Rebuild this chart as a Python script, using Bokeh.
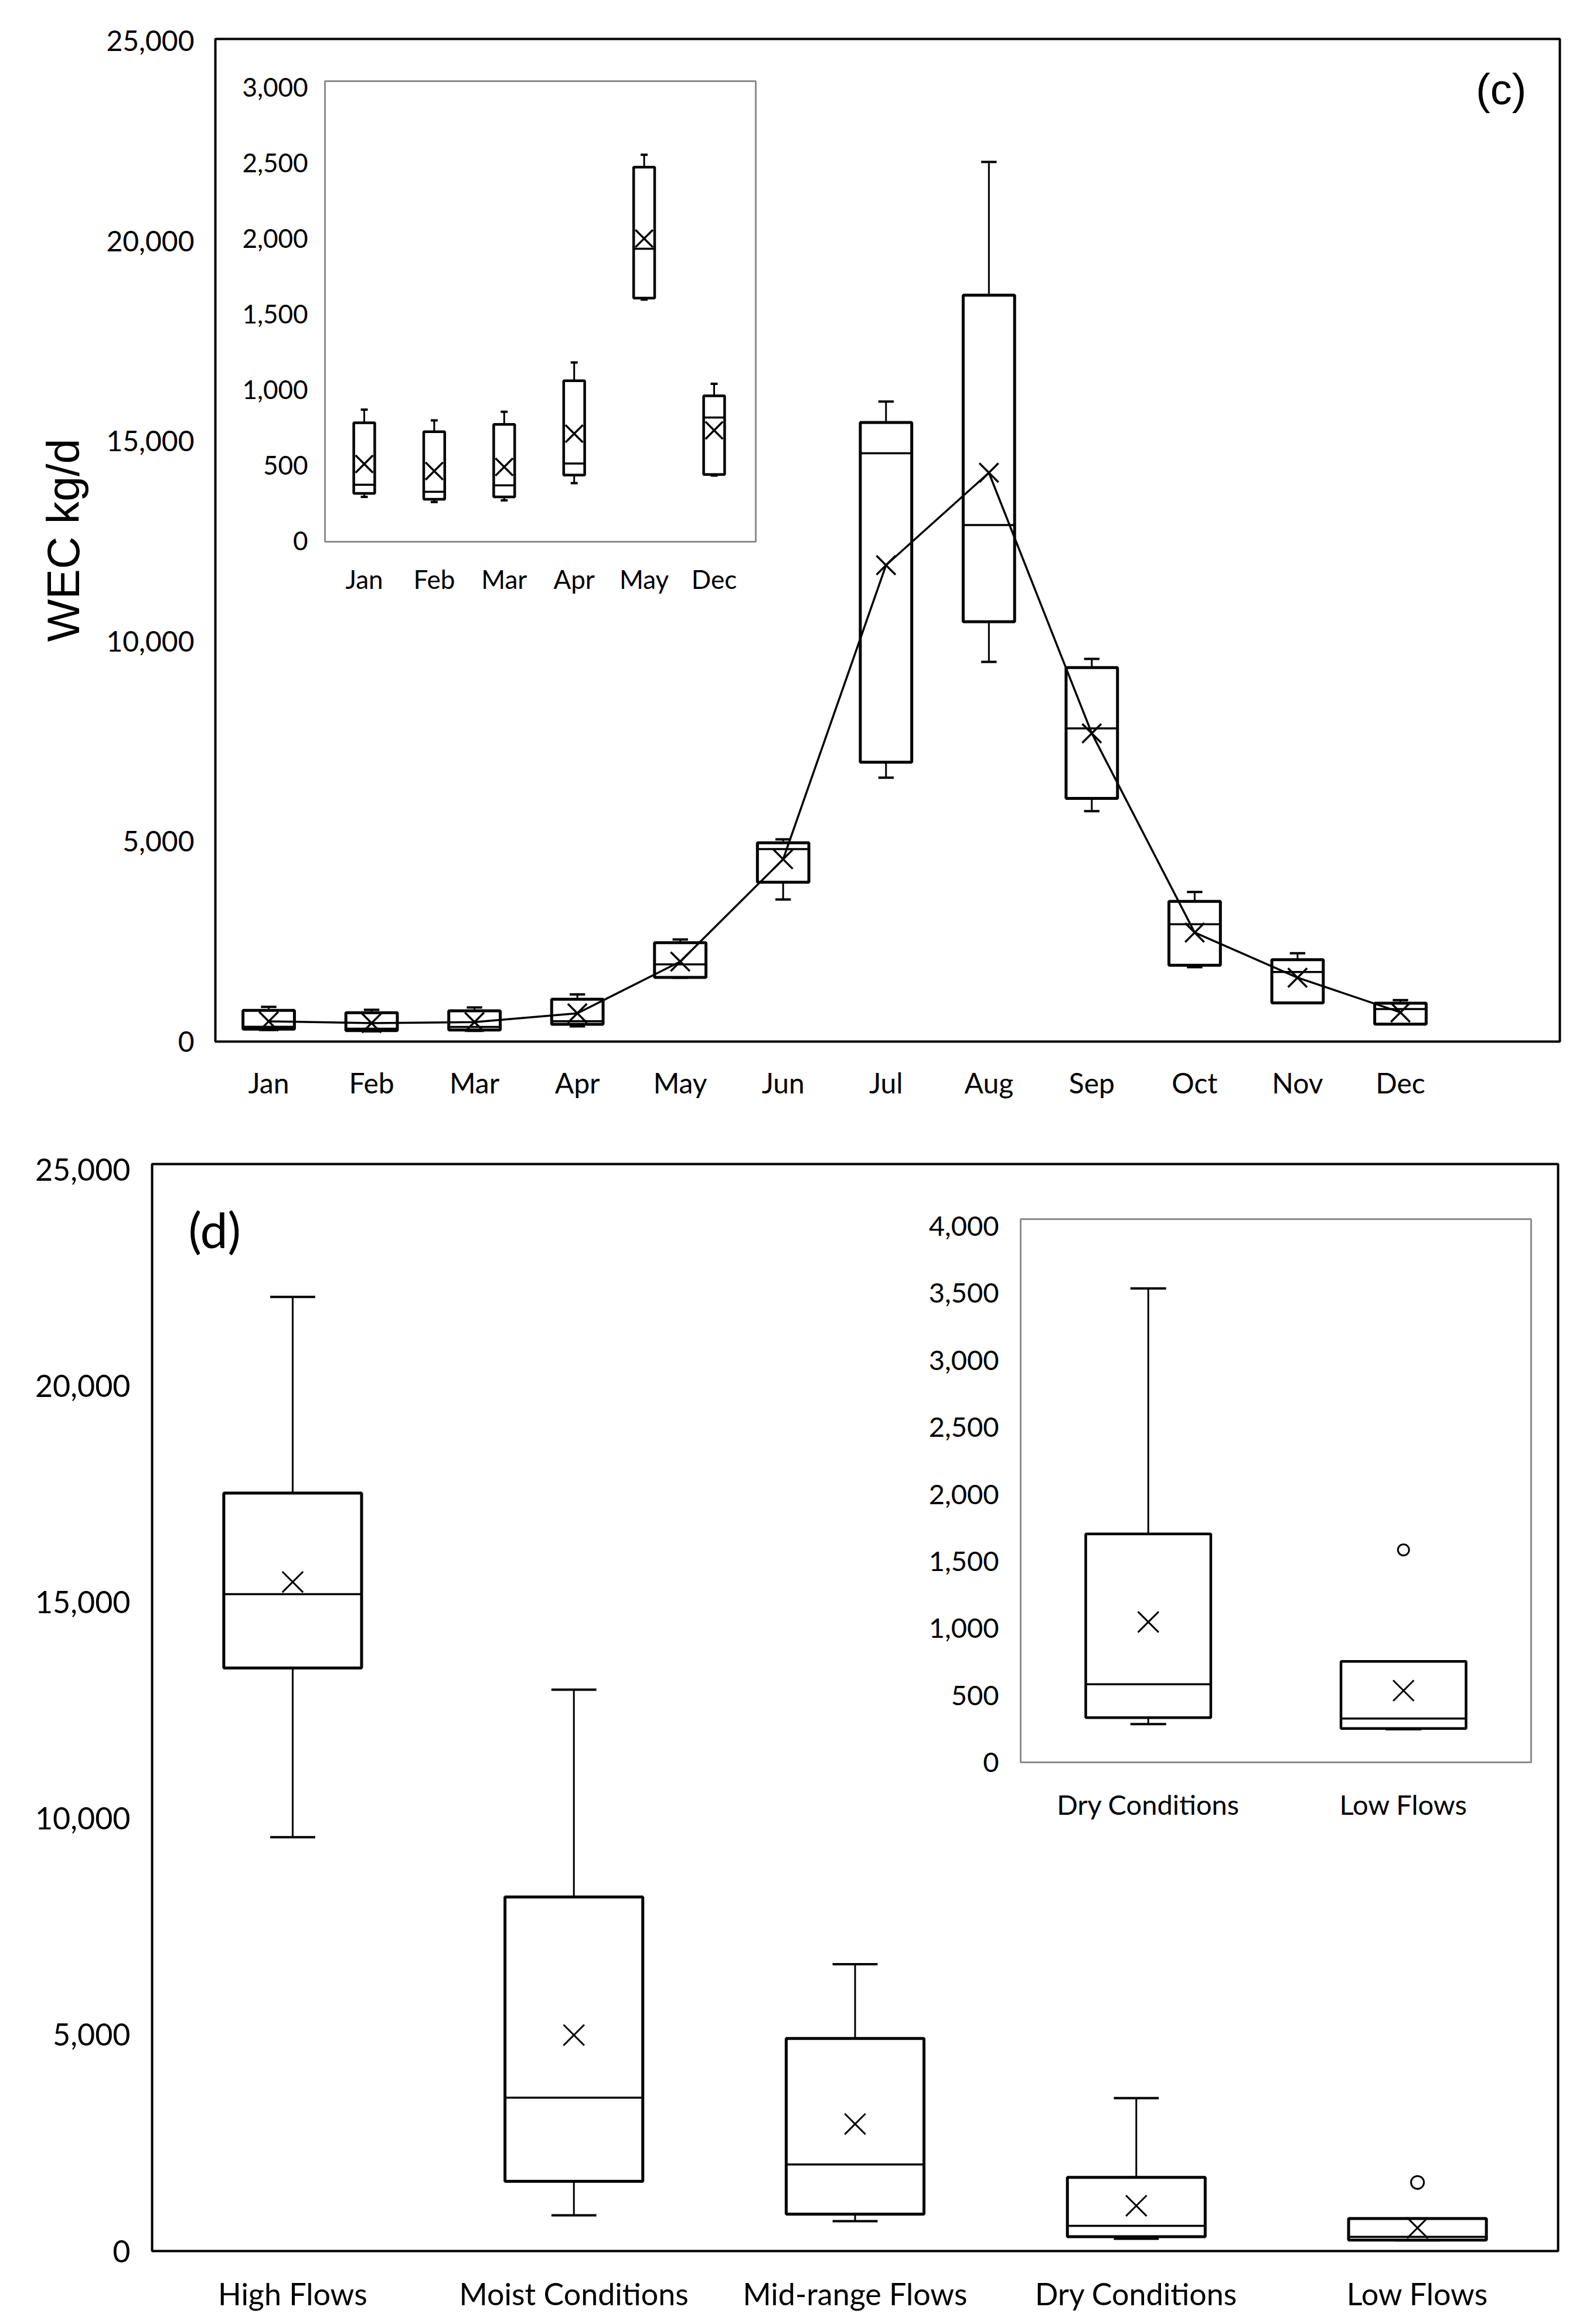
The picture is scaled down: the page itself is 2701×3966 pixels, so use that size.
import numpy as np
from bokeh.plotting import figure
from bokeh.models import Range1d, FixedTicker, NumeralTickFormatter, Label
from bokeh.embed import file_html
from bokeh.resources import INLINE
from bokeh.core.properties import value

# ---------------- data: panel (c) monthly WEC kg/d ----------------
months = ["Jan", "Feb", "Mar", "Apr", "May", "Jun", "Jul", "Aug", "Sep", "Oct", "Nov", "Dec"]
c_min = [289, 255, 266, 380, 1594, 3549, 6592, 9484, 5756, 1859, 967, 430]
c_q1 = [312, 273, 289, 433, 1604, 3981, 6977, 10489, 6075, 1906, 967, 437]
c_med = [369, 323, 365, 510, 1930, 4808, 14697, 12903, 7822, 2930, 1737, 814]
c_q3 = [779, 720, 768, 1057, 2470, 4967, 15464, 18643, 9343, 3502, 2047, 957]
c_max = [866, 795, 852, 1178, 2552, 5052, 15987, 21972, 9559, 3737, 2207, 1037]
c_mean = [506, 460, 487, 707, 1998, 4554, 11900, 14209, 7700, 2723, 1596, 729]
c_yticks = [0, 5000, 10000, 15000, 20000, 25000]
c_inset_months = ["Jan", "Feb", "Mar", "Apr", "May", "Dec"]
c_inset_yticks = [0, 500, 1000, 1500, 2000, 2500, 3000]

# ---------------- data: panel (d) flow classes ----------------
flows = ["High Flows", "Moist Conditions", "Mid-range Flows", "Dry Conditions", "Low Flows"]
d_min = [9564, 825, 690, 285, 247]
d_q1 = [13474, 1610, 852, 333, 253]
d_med = [15180, 3544, 2002, 583, 327]
d_q3 = [17519, 8184, 4911, 1704, 753]
d_max = [22051, 12973, 6629, 3536, 753]
d_mean = [15463, 4992, 2936, 1047, 535]
d_out_class = ["Low Flows"]
d_out_val = [1585]
d_yticks = [0, 5000, 10000, 15000, 20000, 25000]
d_inset_flows = ["Dry Conditions", "Low Flows"]
d_inset_yticks = [0, 500, 1000, 1500, 2000, 2500, 3000, 3500, 4000]

# ---------------- layout constants (page pixels) ----------------
FIG_W = 2690
C_H = 1900
D_H = 2060
TICK_FONT = "Lato"


def lin(p, p0, p1, v0, v1):
    return v0 + (p - p0) * (v1 - v0) / (p1 - p0)


# panel (c) frame
CF_L, CF_R, CF_T, CF_B = 367, 2661, 66, 1777
cx = lambda px: lin(px, 458, 2389, 0, 11)
cy = lambda py: lin(py, 1777, 69, 0, 25000)
# inset (c) geometry
CI_L, CI_R, CI_T, CI_B = 554, 1289, 138, 924
cix = lambda px: lin(px, 621, 1218, 0, 5)
ciy = lambda py: lin(py, 922, 148, 0, 3000)

# panel (d) frame
D_TOP = C_H
DF_L, DF_R, DF_T, DF_B = 259, 2658, 1986, 3841
dx = lambda px: lin(px, 259, 2658, -0.5, 4.5)
dy = lambda py: lin(py, 3841, 1995, 0, 25000)
DI_L, DI_R, DI_T, DI_B = 1741, 2612, 2080, 3007
dix = lambda px: lin(px, 1741, 2612, -0.5, 1.5)
diy = lambda py: lin(py, 3007, 2092, 0, 4000)


def style_axes(p, font_size, xstand, ystand):
    for ax in (p.xaxis[0], p.yaxis[0]):
        ax.axis_line_color = None
        ax.major_tick_line_color = None
        ax.minor_tick_line_color = None
        ax.major_label_text_font = TICK_FONT
        ax.major_label_text_font_size = font_size
        ax.major_label_text_color = "black"
    p.xaxis[0].major_label_standoff = xstand
    p.yaxis[0].major_label_standoff = ystand
    p.xgrid.visible = False
    p.ygrid.visible = False


def draw_boxes(p, xs, mn, q1, md, q3, mx, bw, cw, lw, rx=None, ry=None):
    kw = {}
    if rx:
        kw = dict(x_range_name=rx, y_range_name=ry)
    xs = np.asarray(xs, dtype=float)
    p.segment(x0=xs, x1=xs, y0=q3, y1=mx, line_color="black", line_width=3, **kw)
    p.segment(x0=xs, x1=xs, y0=mn, y1=q1, line_color="black", line_width=3, **kw)
    p.segment(x0=xs - cw, x1=xs + cw, y0=mx, y1=mx, line_color="black", line_width=4, **kw)
    p.segment(x0=xs - cw, x1=xs + cw, y0=mn, y1=mn, line_color="black", line_width=4, **kw)
    p.vbar(x=xs, width=bw, bottom=q1, top=q3, fill_color="white", line_color="black",
           line_width=lw, **kw)
    p.segment(x0=xs - bw / 2, x1=xs + bw / 2, y0=md, y1=md, line_color="black",
              line_width=3.5, **kw)
    return xs


# ======================= panel (c) =======================
pc = figure(width=FIG_W, height=C_H, title=None, output_backend="svg", toolbar_location=None,
            x_range=Range1d(cx(CF_L), cx(CF_R)), y_range=Range1d(cy(CF_B), cy(CF_T)),
            min_border_left=CF_L, min_border_right=FIG_W - CF_R,
            min_border_top=CF_T, min_border_bottom=C_H - CF_B)
pc.background_fill_color = "white"
pc.border_fill_color = "white"
pc.outline_line_color = "black"
pc.outline_line_width = 4
pc.extra_x_ranges = {"ix": Range1d(cix(CF_L), cix(CF_R))}
pc.extra_y_ranges = {"iy": Range1d(ciy(CF_B), ciy(CF_T))}

style_axes(pc, "48px", 35, 30)
pc.xaxis[0].ticker = FixedTicker(ticks=list(range(len(months))))
pc.xaxis[0].major_label_overrides = {i: m for i, m in enumerate(months)}
pc.yaxis[0].ticker = FixedTicker(ticks=c_yticks)
pc.yaxis[0].formatter = NumeralTickFormatter(format="0,0")
pc.yaxis[0].axis_label = "WEC kg/d"
pc.yaxis[0].axis_label_text_font = "Liberation Sans"
pc.yaxis[0].axis_label_text_font_size = "77px"
pc.yaxis[0].axis_label_text_font_style = "normal"
pc.yaxis[0].axis_label_text_color = "black"
pc.yaxis[0].axis_label_standoff = 27

# inset frame
pc.quad(left=[cix(CI_L)], right=[cix(CI_R)], bottom=[ciy(CI_B)], top=[ciy(CI_T)],
        fill_color="white", line_color="#8c8c8c", line_width=3,
        x_range_name="ix", y_range_name="iy")

# main boxes
xc = draw_boxes(pc, np.arange(len(months)), c_min, c_q1, c_med, c_q3, c_max, 0.5, 0.075, 5)
pc.line(xc, c_mean, line_color="black", line_width=3.5)
pc.scatter(xc, c_mean, marker="x", size=46, line_color="black", line_width=3.5)

# inset boxes (subset of months)
idx = [months.index(m) for m in c_inset_months]
xi = np.arange(len(c_inset_months))
draw_boxes(pc, xi, [c_min[i] for i in idx], [c_q1[i] for i in idx], [c_med[i] for i in idx],
           [c_q3[i] for i in idx], [c_max[i] for i in idx], 0.3, 0.05, 4.5,
           rx="ix", ry="iy")
pc.scatter(xi, [c_mean[i] for i in idx], marker="x", size=42, line_color="black",
           line_width=3.5, x_range_name="ix", y_range_name="iy")
# inset tick labels
pc.text(x=[cix(CI_L)] * len(c_inset_yticks), y=c_inset_yticks,
        text=[f"{v:,}" for v in c_inset_yticks], x_offset=-29,
        text_align="right", text_baseline="middle", text_font=value(TICK_FONT),
        text_font_size="44px", text_color="black", x_range_name="ix", y_range_name="iy")
pc.text(x=xi, y=[ciy(CI_B)] * len(xi), text=c_inset_months, y_offset=63,
        text_align="center", text_baseline="middle", text_font=value(TICK_FONT),
        text_font_size="44px", text_color="black", x_range_name="ix", y_range_name="iy")

pc.add_layout(Label(x=cx(2604), y=cy(152), text="(c)", text_align="right",
                    text_baseline="middle", text_font="Liberation Sans",
                    text_font_size="74px", text_color="black"))

# ======================= panel (d) =======================
pd_ = figure(width=FIG_W, height=D_H, title=None, output_backend="svg", toolbar_location=None,
             x_range=Range1d(dx(DF_L), dx(DF_R)), y_range=Range1d(dy(DF_B), dy(DF_T)),
             min_border_left=DF_L, min_border_right=FIG_W - DF_R,
             min_border_top=DF_T - D_TOP, min_border_bottom=D_TOP + D_H - DF_B)
pd_.background_fill_color = "white"
pd_.border_fill_color = "white"
pd_.outline_line_color = "black"
pd_.outline_line_width = 4
pd_.extra_x_ranges = {"ix": Range1d(dix(DF_L), dix(DF_R))}
pd_.extra_y_ranges = {"iy": Range1d(diy(DF_B), diy(DF_T))}

style_axes(pd_, "52px", 35, 31)
pd_.xaxis[0].ticker = FixedTicker(ticks=list(range(len(flows))))
pd_.xaxis[0].major_label_overrides = {i: f for i, f in enumerate(flows)}
pd_.yaxis[0].ticker = FixedTicker(ticks=d_yticks)
pd_.yaxis[0].formatter = NumeralTickFormatter(format="0,0")

pd_.quad(left=[dix(DI_L)], right=[dix(DI_R)], bottom=[diy(DI_B)], top=[diy(DI_T)],
         fill_color="white", line_color="#8c8c8c", line_width=3,
         x_range_name="ix", y_range_name="iy")

xd = draw_boxes(pd_, np.arange(len(flows)), d_min, d_q1, d_med, d_q3, d_max, 0.49, 0.08, 5)
pd_.scatter(xd, d_mean, marker="x", size=50, line_color="black", line_width=3)
pd_.scatter([flows.index(c) for c in d_out_class], d_out_val, marker="circle", size=22,
            fill_color="white", line_color="black", line_width=3)

jdx = [flows.index(f) for f in d_inset_flows]
xdi = np.arange(len(d_inset_flows))
draw_boxes(pd_, xdi, [d_min[i] for i in jdx], [d_q1[i] for i in jdx], [d_med[i] for i in jdx],
           [d_q3[i] for i in jdx], [d_max[i] for i in jdx], 0.49, 0.07, 4.5,
           rx="ix", ry="iy")
pd_.scatter(xdi, [d_mean[i] for i in jdx], marker="x", size=50, line_color="black",
            line_width=3, x_range_name="ix", y_range_name="iy")
pd_.scatter([d_inset_flows.index(c) for c in d_out_class], d_out_val, marker="circle", size=19,
            fill_color="white", line_color="black", line_width=3,
            x_range_name="ix", y_range_name="iy")
pd_.text(x=[dix(DI_L)] * len(d_inset_yticks), y=d_inset_yticks,
         text=[f"{v:,}" for v in d_inset_yticks], x_offset=-37,
         text_align="right", text_baseline="middle", text_font=value(TICK_FONT),
         text_font_size="47px", text_color="black", x_range_name="ix", y_range_name="iy")
pd_.text(x=xdi, y=[diy(DI_B)] * len(xdi), text=d_inset_flows, y_offset=71,
         text_align="center", text_baseline="middle", text_font=value(TICK_FONT),
         text_font_size="47px", text_color="black", x_range_name="ix", y_range_name="iy")

pd_.add_layout(Label(x=dx(321), y=dy(2097), text="(d)", text_align="left",
                     text_baseline="middle", text_font=TICK_FONT,
                     text_font_size="84px", text_color="black"))

open("out.html", "w").write(file_html([pc, pd_], INLINE))
